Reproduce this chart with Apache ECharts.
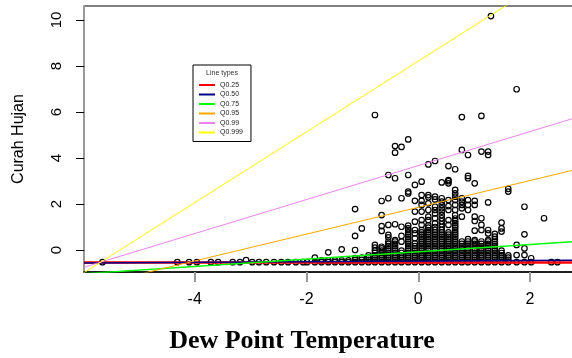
<!DOCTYPE html>
<html><head><meta charset="utf-8">
<script src="https://cdn.jsdelivr.net/npm/echarts@6/dist/echarts.min.js"></script>
<style>html,body{margin:0;padding:0;background:#fff}#c{width:572px;height:358px}</style>
</head><body><div id="c"></div>
<script>
// tick labels
const xTicks = [-4, -2, 0, 2];
const yTicks = [0, 2, 4, 6, 8, 10];
// quantile regression lines (values at the two ends of the x range)
const lineNames = ['Q0.25', 'Q0.50', 'Q0.75', 'Q0.95', 'Q0.99', 'Q0.999'];
const lineColors = ['#ff0000', '#00008b', '#00ff00', '#ffa500', '#ee82ee', '#ffff00'];
const lineEndX = [-5.98, 2.84];
const q025 = [-0.54, -0.54];
const q050 = [-0.57, -0.45];
const q075 = [-1.03, 0.37];
const q095 = [-1.63, 3.51];
const q099 = [-0.75, 5.77];
const q0999 = [-0.99, 12.58];
// sparse observations on the left
const sparseX = [-5.65, -4.31, -4.10, -3.96, -3.71, -3.58, -3.32, -3.19, -3.08, -2.97, -2.85, -2.72, -2.58, -2.45, -2.33, -2.19, -2.06, -1.99];
const sparseY = [-0.53, -0.53, -0.53, -0.53, -0.53, -0.53, -0.53, -0.53, -0.44, -0.53, -0.53, -0.53, -0.53, -0.53, -0.53, -0.53, -0.53, -0.53];
// dense observations, grouped by dew point value
const colX = [-1.85, -1.73, -1.61, -1.49, -1.37, -1.25, -1.13, -1.01, -0.89, -0.775, -0.655, -0.535, -0.415, -0.30, -0.18, -0.06, 0.06, 0.18, 0.30, 0.42, 0.54, 0.66, 0.78, 0.89, 1.01, 1.13, 1.25, 1.30, 1.37, 1.49, 1.61, 1.76, 1.90, 2.02, 2.25, 2.38, 2.49];
const colY = [
  [-0.53, -0.33],
  [-0.53, -0.45],
  [-0.53, -0.45, -0.10],
  [-0.53, -0.45],
  [-0.53, -0.45, 0.03],
  [-0.53, -0.45],
  [-0.53, -0.44, -0.35, 0.0, 0.61, 1.78],
  [-0.53, -0.43, -0.33, 0.94],
  [-0.53, -0.43, -0.33, -0.23],
  [-0.53, -0.43, -0.33, -0.23, -0.13, -0.03, 0.10, 0.22, 5.87],
  [-0.53, -0.43, -0.33, -0.23, -0.13, -0.03, 0.07, 0.14, 0.83, 1.04, 1.52, 2.13],
  [-0.53, -0.43, -0.33, -0.23, -0.13, -0.03, 0.07, 0.17, 0.27, 0.37, 0.55, 0.66, 1.09, 2.25, 3.26],
  [-0.53, -0.43, -0.33, -0.23, -0.13, -0.03, 0.07, 0.17, 0.27, 0.37, 0.43, 1.12, 3.12, 4.23, 4.52],
  [-0.53, -0.43, -0.33, -0.23, -0.13, -0.03, 0.36, 0.61, 1.01, 2.25, 4.48],
  [-0.53, -0.43, -0.33, -0.23, -0.13, -0.03, 0.07, 0.17, 0.27, 0.37, 0.47, 0.57, 0.67, 0.77, 0.87, 0.94, 1.06, 2.46, 2.54, 3.26, 4.81],
  [-0.53, -0.43, -0.33, -0.23, -0.13, -0.03, 0.07, 0.17, 0.29, 0.51, 0.72, 0.87, 1.23, 1.67, 2.14, 2.83],
  [-0.53, -0.43, -0.33, -0.23, -0.13, -0.03, 0.07, 0.17, 0.27, 0.37, 0.47, 0.57, 0.67, 0.77, 0.87, 1.09, 1.30, 1.67, 1.96, 2.14, 2.39, 2.97],
  [-0.53, -0.43, -0.33, -0.23, -0.13, -0.03, 0.07, 0.17, 0.27, 0.37, 0.47, 0.57, 0.67, 0.77, 0.87, 0.97, 1.07, 1.30, 1.45, 1.74, 2.03, 2.29, 2.39, 3.72],
  [-0.53, -0.43, -0.33, -0.23, -0.13, -0.03, 0.07, 0.17, 0.27, 0.37, 0.47, 0.57, 0.67, 0.77, 0.87, 1.00, 1.16, 1.38, 1.59, 1.74, 1.88, 2.20, 2.32, 3.87],
  [-0.53, -0.43, -0.33, -0.23, -0.13, -0.03, 0.07, 0.17, 0.27, 0.37, 0.47, 0.57, 0.67, 0.77, 0.87, 1.00, 1.12, 1.25, 1.38, 1.52, 1.67, 1.81, 1.96, 2.10, 2.25, 2.94],
  [-0.53, -0.43, -0.33, -0.23, -0.13, -0.03, 0.07, 0.17, 0.27, 0.37, 0.47, 0.57, 0.67, 0.77, 1.09, 1.30, 1.74, 1.91, 2.17, 2.90, 2.99, 3.04, 3.65],
  [-0.53, -0.43, -0.33, -0.23, -0.13, -0.03, 0.07, 0.17, 0.27, 0.37, 0.47, 0.57, 0.67, 0.77, 0.87, 0.97, 1.07, 1.17, 1.27, 1.37, 1.52, 1.74, 1.96, 2.17, 2.32, 2.46, 2.61, 3.51],
  [-0.53, -0.43, -0.33, -0.23, -0.13, -0.03, 0.07, 0.17, 0.27, 0.37, 1.45, 1.81, 1.96, 2.10, 2.25, 4.35, 5.78],
  [-0.53, -0.43, -0.33, -0.23, -0.13, -0.03, 0.07, 0.17, 0.27, 0.37, 0.47, 1.74, 1.96, 2.17, 3.12, 3.22, 4.13],
  [-0.53, -0.43, -0.33, -0.23, -0.13, -0.03, 0.07, 0.17, 0.27, 0.37, 0.43, 0.84, 1.26, 1.45, 1.96, 2.14, 2.90],
  [-0.53, -0.43, -0.33, -0.23, -0.13, -0.03, 0.07, 0.17, 0.27, 0.37, 0.87, 1.09, 1.38, 4.28, 5.83],
  [-0.53, -0.43, -0.33, -0.23, -0.13, -0.03, 0.07, 0.17, 0.27, 0.37, 0.43, 0.72, 0.87, 2.07, 4.13, 4.28],
  [10.17],
  [-0.53, -0.43, -0.33, -0.23, -0.13, -0.03, 0.07, 0.17, 0.27, 0.37, 0.47, 0.58, 0.70],
  [-0.53, -0.43, -0.33, -0.23, -0.13, -0.03, 0.80, 0.94, 1.19],
  [-0.53, -0.43, -0.33, -0.23, 2.54, 2.66],
  [-0.53, -0.22, 0.22, 6.99],
  [-0.53, -0.22, 0.07, 0.68, 1.88],
  [-0.53, -0.36],
  [1.38],
  [-0.53],
  [-0.53]
];

const points = [];
sparseX.forEach((x, i) => points.push([x, sparseY[i]]));
colX.forEach((x, i) => colY[i].forEach(y => points.push([x, y])));

const lineVals = [q025, q050, q075, q095, q099, q0999];
const lineWidths = [2.5, 1.5, 1.5, 1, 1, 1];

const chart = echarts.init(document.getElementById('c'), null, { renderer: 'canvas' });
const FONT = 'Liberation Sans, Arial, sans-serif';
const series = [{
  type: 'scatter', name: 'obs', data: points, symbol: 'circle', symbolSize: 5.5,
  itemStyle: { color: 'rgba(0,0,0,0)', borderColor: '#000', borderWidth: 1.2, opacity: 1 }, z: 2, silent: true
}];
lineNames.forEach((n, i) => {
  series.push({
    type: 'line', name: n, data: lineEndX.map((x, j) => [x, lineVals[i][j]]),
    symbol: 'none', clip: true, color: lineColors[i],
    lineStyle: { color: lineColors[i], width: lineWidths[i] },
    itemStyle: { color: lineColors[i] }, z: 3 + i, silent: true
  });
});

chart.setOption({
  animation: false,
  backgroundColor: '#fff',
  grid: { left: 84, top: 6, width: 493, height: 266, outerBoundsMode: 'none', containLabel: false,
    show: true, borderColor: '#000', borderWidth: 1, backgroundColor: 'transparent' },
  xAxis: {
    type: 'value', min: -5.98, max: 2.84,
    axisLine: { show: true, onZero: false, lineStyle: { color: '#000', width: 1.5 } },
    axisTick: { show: true, customValues: xTicks, length: 10, lineStyle: { color: '#999', width: 2 } },
    axisLabel: { customValues: xTicks, margin: 20, fontSize: 16, color: '#000', fontFamily: FONT, formatter: v => String(v) },
    splitLine: { show: false }
  },
  yAxis: {
    type: 'value', min: -0.957, max: 10.61,
    name: 'Curah Hujan', nameLocation: 'middle', nameGap: 57, nameRotate: 90,
    nameTextStyle: { fontSize: 16, color: '#000', fontFamily: FONT },
    axisLine: { show: true, onZero: false, lineStyle: { color: '#999', width: 2 } },
    axisTick: { show: true, customValues: yTicks, length: 8, lineStyle: { color: '#000', width: 1 } },
    axisLabel: { customValues: yTicks, rotate: 90, margin: 20, fontSize: 15, color: '#000', fontFamily: FONT, formatter: v => String(v) },
    splitLine: { show: false }
  },
  legend: {
    data: lineNames, orient: 'vertical', left: 193, top: 65,
    padding: [16, 8, 5, 6], itemWidth: 16, itemHeight: 2, itemGap: 1.5,
    icon: 'rect', borderColor: '#000', borderWidth: 1, backgroundColor: '#fff',
    selectedMode: false,
    textStyle: { fontSize: 7, lineHeight: 8, color: '#222', fontFamily: FONT }
  },
  graphic: [
    { type: 'text', x: 222, y: 73, z: 100, style: { text: 'Line types', fontSize: 7, fill: '#333', fontFamily: FONT, textAlign: 'center', textVerticalAlign: 'middle' } },
    { type: 'text', x: 302, y: 341, z: 100, style: { text: 'Dew Point Temperature', fontSize: 26, fontWeight: 'bold', fill: '#000', fontFamily: 'Liberation Serif, DejaVu Serif, serif', textAlign: 'center', textVerticalAlign: 'middle' } }
  ],
  series: series
});
</script></body></html>
